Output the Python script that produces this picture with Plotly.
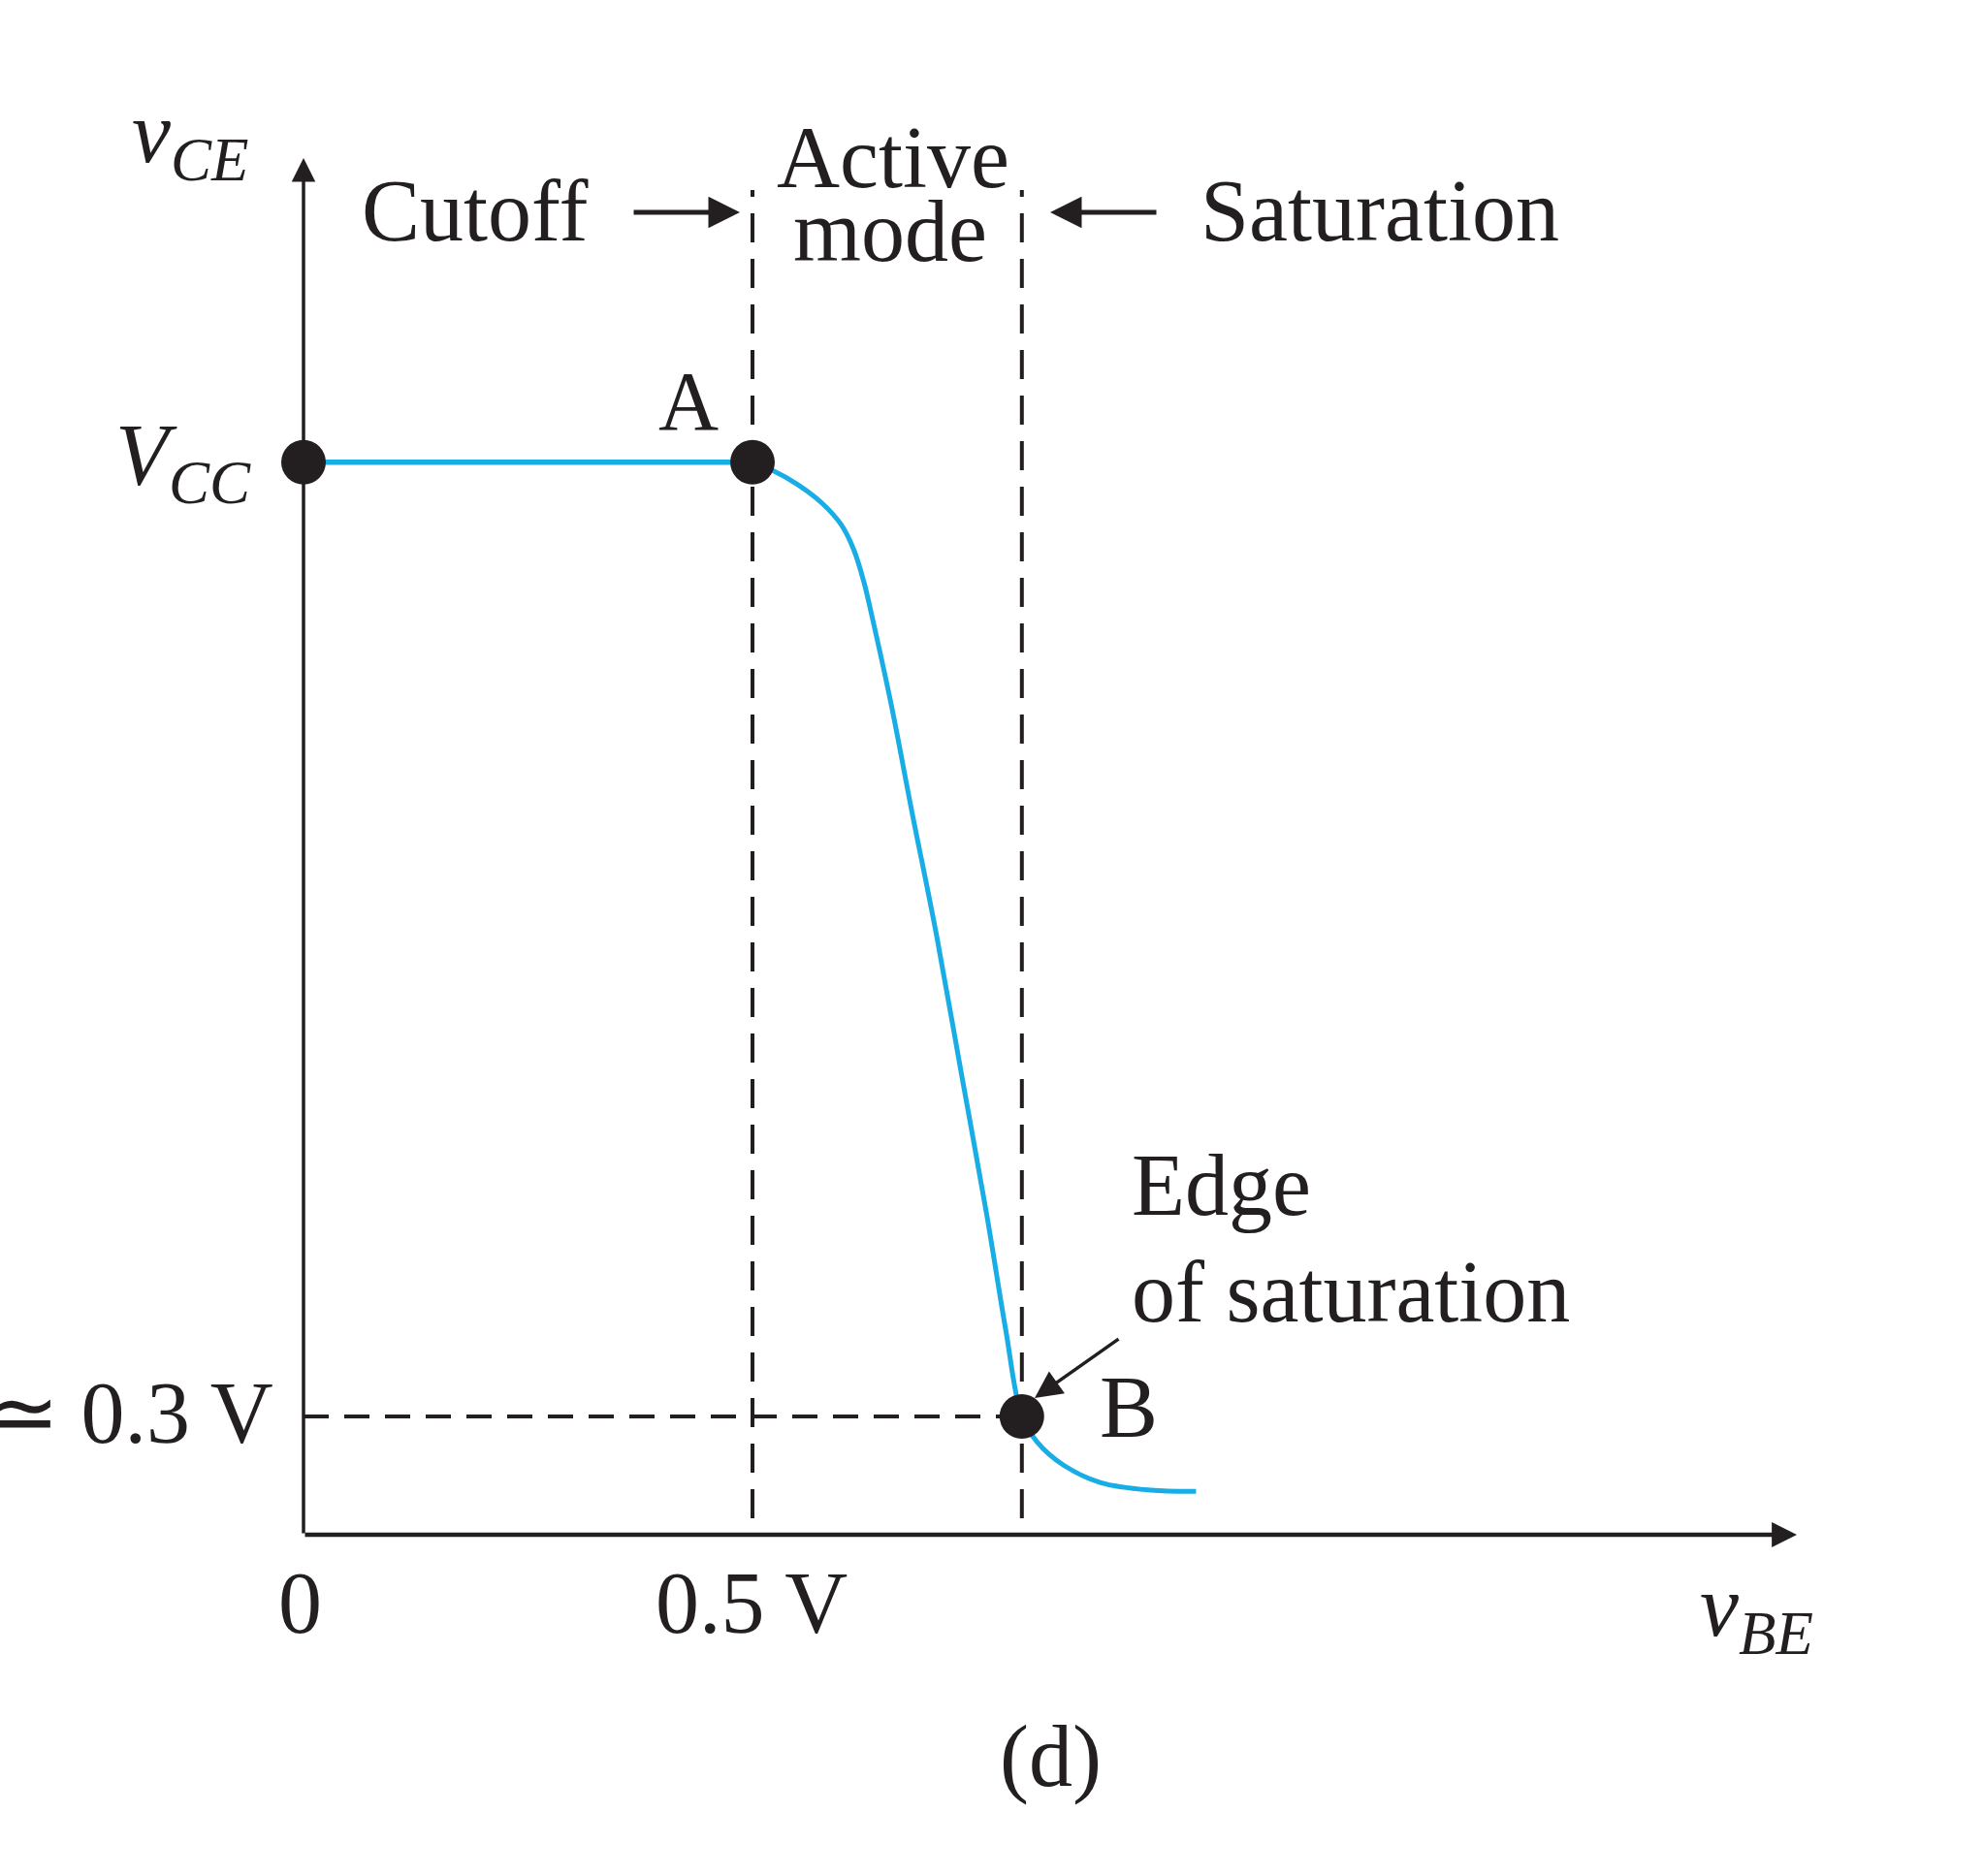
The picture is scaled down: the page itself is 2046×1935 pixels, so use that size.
import plotly.graph_objects as go

# ---- data (volts, schematic) ----
VCC = 2.72
VCE_SAT = 0.3
UBE_A = 0.5
UBE_B = 0.80

cutoff_ube = [0.0, UBE_A]
cutoff_uce = [VCC, VCC]

curve_ube = [0.500, 0.522, 0.550, 0.578, 0.599, 0.613, 0.624, 0.634, 0.655,
             0.677, 0.705, 0.733, 0.761, 0.782, 0.800, 0.817, 0.846, 0.888,
             0.944, 0.994]
curve_uce = [2.72, 2.70, 2.664, 2.615, 2.561, 2.497, 2.417, 2.32, 2.10,
             1.84, 1.52, 1.165, 0.81, 0.52, 0.30, 0.235, 0.177, 0.132,
             0.113, 0.110]

point_ube = [0.0, UBE_A, UBE_B]
point_uce = [VCC, VCC, VCE_SAT]

# ---- layout helpers (pixel -> data) ----
W, H = 2046, 1935
X0PX, XSCALE = 313, 926.0
Y0PX, YSCALE = 1583, 406.7
def px2x(p):
    return (p - X0PX) / XSCALE
def px2y(p):
    return (Y0PX - p) / YSCALE

INK = "#231f20"
BLUE = "#19ade6"
FONT = "Liberation Serif, Times New Roman, serif"
FS = 90

fig = go.Figure()
fig.add_trace(go.Scatter(x=cutoff_ube, y=cutoff_uce, mode="lines",
                         line=dict(color=BLUE, width=5.5), hoverinfo="skip"))
fig.add_trace(go.Scatter(x=curve_ube, y=curve_uce, mode="lines",
                         line=dict(color=BLUE, width=5, shape="spline", smoothing=1.0),
                         hoverinfo="skip"))
fig.add_trace(go.Scatter(x=point_ube, y=point_uce, mode="markers",
                         marker=dict(color=INK, size=46), hoverinfo="skip"))

# dashed guide lines
dash = "30px,17px"
fig.add_shape(type="line", x0=UBE_A, x1=UBE_A, y0=px2y(1566), y1=px2y(196),
              line=dict(color=INK, width=4, dash=dash), layer="below")
fig.add_shape(type="line", x0=UBE_B, x1=UBE_B, y0=px2y(1566), y1=px2y(196),
              line=dict(color=INK, width=4, dash=dash), layer="below")
fig.add_shape(type="line", x0=0, x1=UBE_B, y0=VCE_SAT, y1=VCE_SAT,
              line=dict(color=INK, width=4, dash="26px,16px"), layer="below")

ann = []
def arrow(x_tip, y_tip, x_tail, y_tail, width=3, size=1.5, head=2):
    ann.append(dict(x=x_tip, y=y_tip, ax=x_tail, ay=y_tail, xref="x", yref="y",
                    axref="x", ayref="y", showarrow=True, text="", arrowhead=head,
                    arrowwidth=width, arrowsize=size, arrowcolor=INK))

def label(text, xp, yp, xanchor="center", size=FS):
    ann.append(dict(x=px2x(xp), y=px2y(yp), xref="x", yref="y", text=text,
                    showarrow=False, xanchor=xanchor, yanchor="middle",
                    font=dict(family=FONT, size=size, color=INK)))

# axes with arrows
arrow(px2x(1853), 0, 0, 0, width=4.5, size=1.15)
arrow(0, px2y(163), 0, 0, width=3.5, size=1.4)

# region arrows
arrow(px2x(763), px2y(219), px2x(652), px2y(219), width=5, size=1.3)
arrow(px2x(1083), px2y(219), px2x(1194), px2y(219), width=5, size=1.3)
# edge of saturation arrow
arrow(px2x(1067), px2y(1442), px2x(1155), px2y(1380), width=3.5, size=1.6)

label("Cutoff", 489, 217)
label("Active", 921, 162)
label("mode", 918, 238)
label("Saturation", 1423, 217)
label("A", 710, 414, size=86)
label("B", 1164, 1451)
label("<i>V</i><sub><i>CC</i></sub>", 261, 476, xanchor="right")
label("<i>v</i><sub><i>CE</i></sub>", 196, 143)
label("<i>v</i><sub><i>BE</i></sub>", 1811, 1663)
label("\u2243 0.3 V", 284, 1457, xanchor="right")
label("0", 309, 1653)
label("0.5 V", 775, 1653)
label("Edge", 1165, 1222, xanchor="left")
label("of saturation", 1165, 1332, xanchor="left")
label("(d)", 1083, 1812)

fig.update_layout(
    width=W, height=H, autosize=False,
    margin=dict(l=0, r=0, t=0, b=0, pad=0),
    paper_bgcolor="white", plot_bgcolor="white",
    showlegend=False,
    annotations=ann,
    xaxis=dict(range=[px2x(0), px2x(W)], visible=False, fixedrange=True),
    yaxis=dict(range=[px2y(H), px2y(0)], visible=False, fixedrange=True),
)

fig.write_html("out.html", config={"displayModeBar": False})
